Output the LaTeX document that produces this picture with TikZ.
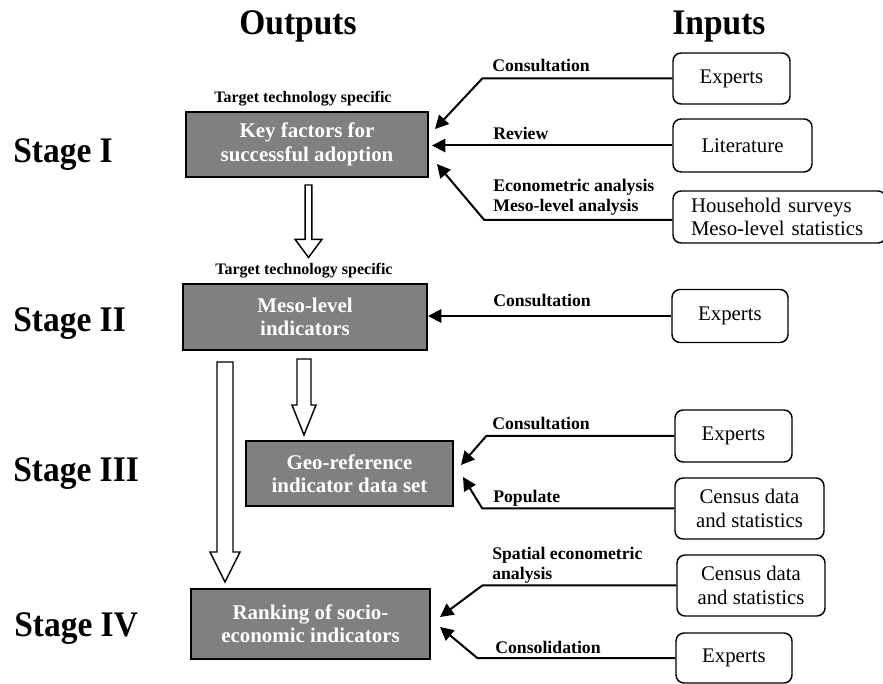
\documentclass[tikz,border=0pt]{standalone}
\usepackage{fontspec}
\setmainfont{Liberation Serif}
\newfontfamily\tallserif{Liberation Serif}[FakeStretch=0.93]
\usetikzlibrary{arrows.meta,calc}
\definecolor{boxgray}{RGB}{128,128,128}
\newcommand\bigfnt{\tallserif\bfseries\fontsize{27}{30}\selectfont}
\newcommand\boxfnt{\bfseries\fontsize{15.7}{17.5}\selectfont}
\newcommand\infnt{\fontsize{15.6}{17.8}\selectfont}
\newcommand\lblfnt{\bfseries\fontsize{13.3}{15}\selectfont}
\newcommand\tgtfnt{\bfseries\fontsize{12}{14}\selectfont}
\begin{document}
\begin{tikzpicture}[x=0.75pt,y=-0.75pt,
  outbox/.style={draw=black,line width=1.5pt,fill=boxgray,text=white,font=\boxfnt,align=center,inner sep=0pt},
  inbox/.style={draw=black,line width=1.1pt,rounded corners=6pt,font=\infnt,align=center,inner sep=0pt},
  conn/.style={line width=1.5pt,-{Triangle[length=10pt,width=10pt]}},
  lbl/.style={font=\lblfnt,anchor=base west,inner sep=0pt},
  tgt/.style={font=\tgtfnt,anchor=base,inner sep=0pt},
  head/.style={font=\bigfnt,anchor=base,inner sep=0pt},
  stagelbl/.style={font=\bigfnt,anchor=base west,inner sep=0pt},
  blockarrow/.style n args={3}{draw=black,line width=1.1pt,fill=white,
    to path={let \p1=(\tikztostart),\p2=(\tikztotarget) in
      (\x1-#1,\y1) -- (\x1-#1,\y2+#3) -- (\x1-#2,\y2+#3) -- (\x1,\y2)
      -- (\x1+#2,\y2+#3) -- (\x1+#1,\y2+#3) -- (\x1+#1,\y1) -- cycle}}
]
\useasboundingbox (0,0) rectangle (883,684);

% headers
\node[head] (hout) at (298,35) {Outputs};
\node[head] (hin) at (719,35) {Inputs};

% stages
\node[stagelbl] (s1) at (13,163) {Stage I};
\node[stagelbl] (s2) at (13,332) {Stage II};
\node[stagelbl] (s3) at (13,482) {Stage III};
\node[stagelbl] (s4) at (14,637) {Stage IV};

% output boxes
\node[outbox,minimum width=181.5pt,minimum height=48.75pt] (box1) at (307,144.5) {Key factors for\\successful adoption};
\node[outbox,minimum width=183pt,minimum height=49.5pt] (box2) at (305,317) {Meso-level\\indicators};
\node[outbox,minimum width=155.25pt,minimum height=48.75pt] (box3) at (349.5,473.5) {Geo-reference\\indicator data set};
\node[outbox,minimum width=179.25pt,minimum height=52.5pt] (box4) at (310.5,624) {Ranking of socio-\\economic indicators};

\node[tgt] (t1) at (303,103) {Target technology specific};
\node[tgt] (t2) at (304,275) {Target technology specific};

% input boxes
\node[inbox,minimum width=87.75pt,minimum height=38.25pt] (e1) at (731.5,78.5) {Experts};
\node[inbox,minimum width=104.25pt,minimum height=39.75pt] (lit) at (742.5,145.5) {Literature};
\node[inbox,minimum height=39pt,align=left,text width=132.75pt,inner xsep=13.5pt] (hh) at (779.5,217) {Household surveys\\Meso-level statistics};
\node[inbox,minimum width=87pt,minimum height=39.75pt] (e2) at (730,316) {Experts};
\node[inbox,minimum width=87.75pt,minimum height=39pt] (e3) at (733.5,436) {Experts};
\node[inbox,minimum width=111.75pt,minimum height=45.75pt] (c1) at (749.5,508.5) {Census data\\and statistics};
\node[inbox,minimum width=111pt,minimum height=45.75pt] (c2) at (751,585.5) {Census data\\and statistics};
\node[inbox,minimum width=87pt,minimum height=37.5pt] (e4) at (734,658) {Experts};

% connectors
\draw[conn] (e1.west) -- ++(-190,0) -- ([shift={(6,-15.5)}]box1.east);
\draw[conn] (lit.west) -- ($(lit.west -| box1.east)+(3,0)$);
\draw[conn] ([yshift=-2.25pt]hh.west) -- ++(-188,0) -- ([shift={(8,19.5)}]box1.east);
\draw[conn] (e2.west) -- (e2.west -| box2.east);
\draw[conn] (e3.west) -- ++(-188,0) -- ([shift={(7,-8.5)}]box3.east);
\draw[conn] (c1.west) -- ++(-192,0) -- ([shift={(9,3.5)}]box3.east);
\draw[conn] (c2.west) -- ++(-194,0) -- ([shift={(9,-7)}]box4.east);
\draw[conn] (e4.west) -- ++(-198,0) -- ([shift={(9,3)}]box4.east);

% labels
\node[lbl] (l1) at (492,72) {Consultation};
\node[lbl] (l2) at (493,140) {Review};
\node[lbl] (l3a) at (493,192) {Econometric analysis};
\node[lbl] (l3b) at (493,212) {Meso-level analysis};
\node[lbl] (l4) at (493,307) {Consultation};
\node[lbl] (l5) at (492,430) {Consultation};
\node[lbl] (l6) at (493,503) {Populate};
\node[lbl] (l7a) at (492,560) {Spatial econometric};
\node[lbl] (l7b) at (492,580) {analysis};
\node[lbl] (l8) at (495,653) {Consolidation};

% block arrows
\coordinate (a1s) at ($(box1.south)+(1.5,7)$);
\coordinate (a1e) at ($(t2.north)+(4.5,-6)$);
\draw[blockarrow={2.6pt}{10pt}{13.5pt}] (a1s) to (a1e);
\coordinate (a2s) at ($(box2.south)+(-1,8)$);
\coordinate (a2e) at ($(box3.north -| a2s)+(0,-5)$);
\draw[blockarrow={5.25pt}{9pt}{22.5pt}] (a2s) to (a2e);
\coordinate (a3s) at ($(box2.south)+(-80,11)$);
\coordinate (a3e) at ($(box4.north -| a3s)+(0,-6)$);
\draw[blockarrow={6pt}{11.25pt}{22.5pt}] (a3s) to (a3e);
\end{tikzpicture}
\end{document}
